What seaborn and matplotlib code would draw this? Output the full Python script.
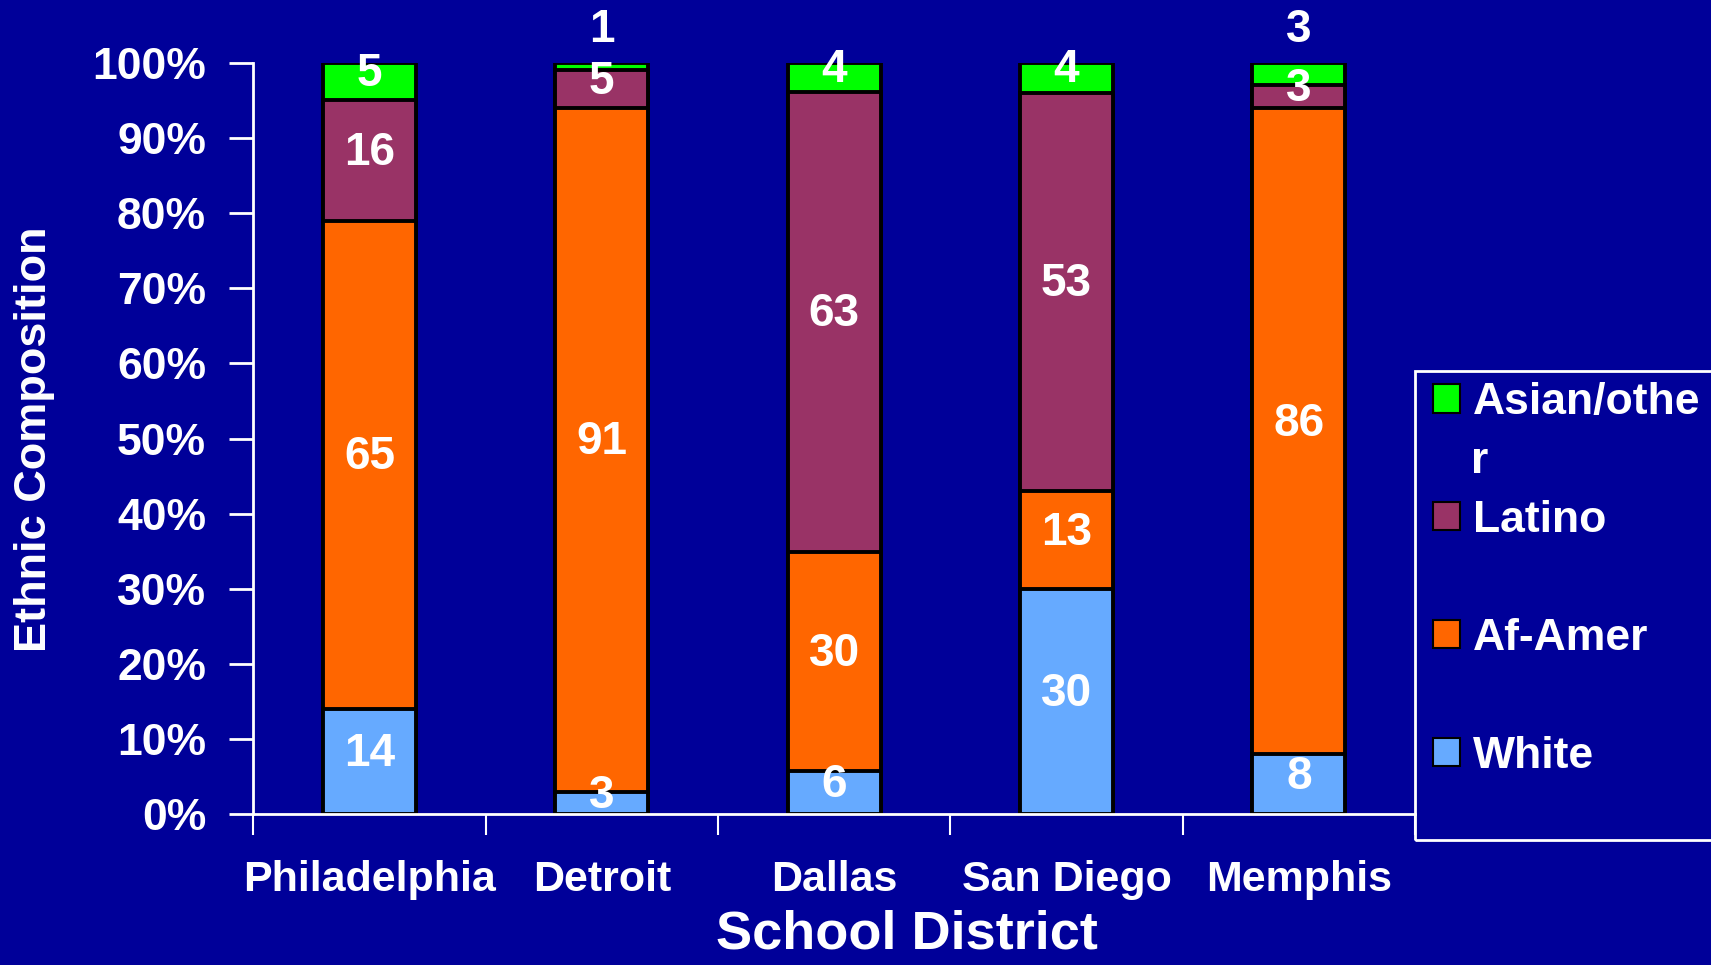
import numpy as np
import pandas as pd
import matplotlib
matplotlib.use("Agg")
import matplotlib.pyplot as plt
from matplotlib.patches import Patch, Rectangle
import seaborn as sb

districts = ["Philadelphia", "Detroit", "Dallas", "San Diego", "Memphis"]
white = [14, 3, 6, 30, 8]
af_amer = [65, 91, 30, 13, 86]
latino = [16, 5, 63, 53, 3]
asian = [5, 1, 4, 4, 3]

groups = ["White", "Af-Amer", "Latino", "Asian/other"]
colors = ["#66AAFF", "#FF6600", "#993366", "#00FF00"]
# legend text wraps in the original ("Asian/othe" + "r")
legend_labels = ["Asian/othe", "Latino", "Af-Amer", "White"]

bg = "#000099"

df = pd.DataFrame({"district": districts, "White": white, "Af-Amer": af_amer,
                   "Latino": latino, "Asian/other": asian})
total = df[groups].sum(axis=1)
pct = df[groups].div(total, axis=0) * 100
cum = pct.cumsum(axis=1)
cum["district"] = districts

plt.rcParams["font.family"] = ["Liberation Sans", "DejaVu Sans"]
plt.rcParams["font.weight"] = "bold"

fig = plt.figure(figsize=(17.11, 9.65), dpi=100, facecolor=bg)
ax = fig.add_axes([0.148, 0.156, 0.679, 0.779])
ax.set_facecolor(bg)

# stacked bars: draw the cumulative totals tallest first
for g, c in reversed(list(zip(groups, colors))):
    sb.barplot(data=cum, x="district", y=g, color=c, width=0.4, saturation=1,
               edgecolor="black", linewidth=2.8, ax=ax)

# value labels
for i in range(len(districts)):
    bottom = 0
    for g in groups:
        h = pct.loc[i, g]
        val = df.loc[i, g]
        if g == "Asian/other" and h <= 3:
            y = 104.3
        else:
            y = bottom + h / 2 + 1
        ax.text(i, y, str(val), ha="center", va="center", color="white",
                fontsize=33, fontweight="bold", clip_on=False)
        bottom += h

ax.set_xlim(-0.5, 4.5)
ax.set_ylim(0, 100)
ax.set_yticks(range(0, 101, 10))
ax.set_yticklabels([f"{t}%" for t in range(0, 101, 10)])
ax.set_xticks(range(len(districts)))
ax.set_xticklabels(districts)
ax.set_xticks(np.arange(-0.5, len(districts), 1), minor=True)
ax.tick_params(axis="x", which="major", length=0, pad=33, labelsize=31, labelcolor="white")
ax.tick_params(axis="x", which="minor", length=15, width=1.5, color="white", direction="out")
ax.tick_params(axis="y", length=17, width=2, color="white", labelsize=32,
               labelcolor="white", pad=17)
ax.set_xlabel("")
ax.set_ylabel("")
for s in ["top", "right"]:
    ax.spines[s].set_visible(False)
for s in ["left", "bottom"]:
    ax.spines[s].set_color("white")
    ax.spines[s].set_linewidth(2)

fig.text(0.530, 0.032, "School District", ha="center", va="center", color="white",
         fontsize=39, fontweight="bold")
fig.text(0.020, 0.545, "Ethnic Composition", ha="center", va="center", color="white",
         fontsize=32.5, fontweight="bold", rotation=90)

# legend
handles = [Patch(facecolor=c, edgecolor="black", linewidth=1.5) for c in reversed(colors)]
leg = fig.legend(handles, legend_labels, loc="upper left", bbox_to_anchor=(0.8375, 0.604),
                 frameon=False, fontsize=32, labelcolor="white", handlelength=0.6,
                 handleheight=0.6, handletextpad=0.3, labelspacing=1.73,
                 borderpad=0, borderaxespad=0)
fig.text(0.8597, 0.522, "r", ha="left", va="center", color="white",
         fontsize=32, fontweight="bold")
fig.add_artist(Rectangle((0.827, 0.1295), 0.25, 0.486, transform=fig.transFigure,
                         fill=False, edgecolor="white", linewidth=2))

fig.savefig("out.png", dpi=100, facecolor=bg)
